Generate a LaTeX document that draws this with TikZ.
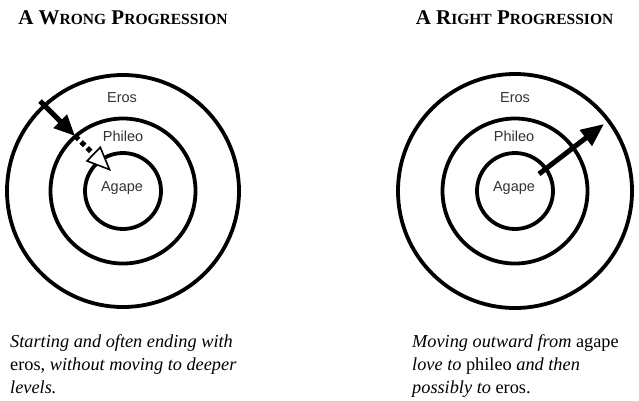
\documentclass[tikz,border=0pt]{standalone}
\usepackage{fontspec}
\setmainfont{Liberation Serif}
\newfontfamily\labelfont{Liberation Sans}
\usetikzlibrary{arrows.meta}
\begin{document}
\begin{tikzpicture}[x=1pt,y=-1pt,
  ring/.style={draw=black, line width=3.8pt, circle, inner sep=0pt},
  lbl/.style={font=\labelfont\fontsize{14.5}{16}\selectfont, text=black!80, inner sep=0pt},
  ttl/.style={font=\bfseries\fontsize{21}{24}\selectfont, anchor=base, inner sep=0pt},
  captext/.style={font=\fontsize{18.3}{23}\selectfont, anchor=base west, inner sep=0pt, align=left},
  shaft/.style={line width=5pt}
]
\useasboundingbox (0,0) rectangle (639,400);
\fill[white] (0,0) rectangle (639,400);
\newcommand{\smc}[1]{{\fontsize{15.5}{18}\selectfont #1}}
% titles
\node[ttl] (t1) at (123,24) {A W\smc{RONG} P\smc{ROGRESSION}};
\node[ttl] (t2) at (514.5,24) {A R\smc{IGHT} P\smc{ROGRESSION}};
% left rings
\node[ring, minimum size=232pt] (lo) at (123,191) {};
\node[ring, minimum size=145pt] (lm) at (123,191) {};
\node[ring, minimum size=76pt] (li) at (123,191) {};
\node[lbl] (le) at (122,98) {Eros};
\node[lbl] (lp) at (123,136) {Phileo};
\node[lbl] (la) at (122,188) {Agape};
% right rings
\node[ring, minimum size=234pt] (ro) at (515,191) {};
\node[ring, minimum size=145pt] (rm) at (515,191) {};
\node[ring, minimum size=76pt] (ri) at (515,191) {};
\node[lbl] (re) at (515,98) {Eros};
\node[lbl] (rp) at (514,136) {Phileo};
\node[lbl] (ra) at (514,188) {Agape};
% left arrow
\coordinate (w1) at (40,101);
\coordinate (w2) at (75,136);
\coordinate (w3) at (111,171);
\draw[shaft, -{Triangle[length=21pt,width=18pt]}] (w1) -- (w2);
\draw[shaft, dash pattern=on 5pt off 3.5pt, -{Triangle[length=25pt,width=21pt,fill=white,line width=1.6pt]}] (w2) -- (w3);
% right arrow
\coordinate (r1) at (539,174);
\coordinate (r2) at (604,124);
\draw[shaft, -{Triangle[length=23pt,width=19pt]}] (r1) -- (r2);
% captions
\node[captext] (c1) at (10,393) {\itshape Starting and often ending with\\ \upshape eros, \itshape without moving to deeper\\ \itshape levels.};
\node[captext] (c2) at (412,393) {\itshape Moving outward from \upshape agape\\ \itshape love to \upshape phileo \itshape and then\\ \itshape possibly to \upshape eros.};
\end{tikzpicture}
\end{document}
